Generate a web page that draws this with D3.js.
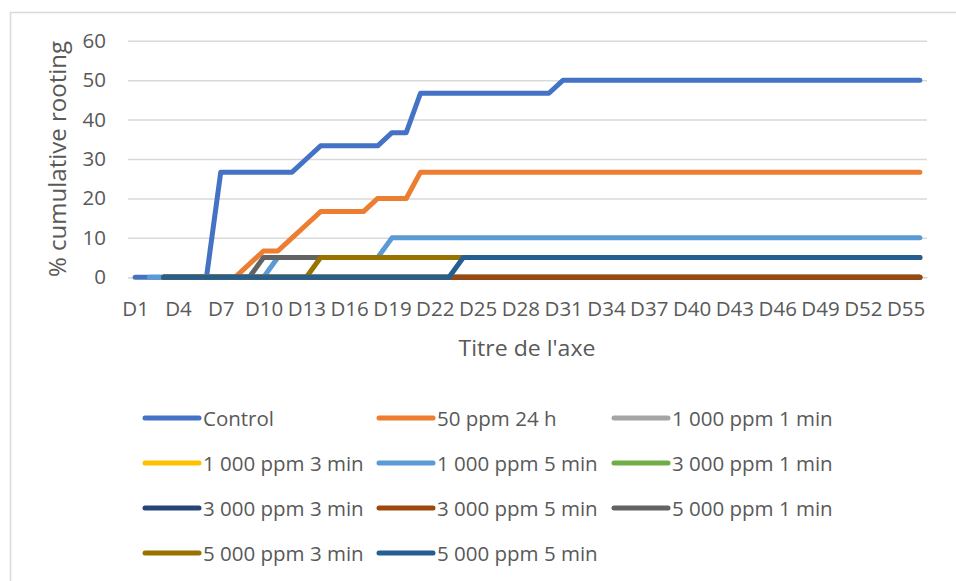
<!DOCTYPE html>
<html>
<head>
<meta charset="utf-8">
<script src="https://cdn.jsdelivr.net/npm/d3@7/dist/d3.min.js"></script>
<style>
  html, body { margin: 0; padding: 0; background: #fff; }
  svg { display: block; font-family: "Open Sans", "Noto Sans", sans-serif; }
</style>
</head>
<body>
<svg id="chart" width="956" height="581"></svg>
<script>
// Observation days D1 … D56
const days = d3.range(1, 57).map(d => "D" + d);
const yTicks = [0, 10, 20, 30, 40, 50, 60];

// helper: build a 56-day series from runs of [firstDay, lastDay, value]
function runs(list) {
  const out = new Array(days.length).fill(null);
  list.forEach(([a, b, v]) => { for (let d = a; d <= b; d++) out[d - 1] = v; });
  return out;
}

// cumulative rooting (%) per treatment
const control      = runs([[1, 6, 0], [7, 12, 26.67], [13, 13, 30], [14, 18, 33.33], [19, 20, 36.67], [21, 30, 46.67], [31, 56, 50]]);
const ppm50_24h    = runs([[3, 8, 0], [9, 9, 3.33], [10, 11, 6.67], [12, 12, 10], [13, 13, 13.33], [14, 17, 16.67], [18, 20, 20], [21, 56, 26.67]]);
const ppm1000_1    = runs([[3, 56, 0]]);
const ppm1000_3    = runs([[3, 56, 0]]);
const ppm1000_5    = runs([[2, 10, 0], [11, 18, 5], [19, 56, 10]]);
const ppm3000_1    = runs([[3, 56, 0]]);
const ppm3000_3    = runs([[3, 56, 0]]);
const ppm3000_5    = runs([[3, 56, 0]]);
const ppm5000_1    = runs([[3, 9, 0], [10, 56, 5]]);
const ppm5000_3    = runs([[3, 13, 0], [14, 56, 5]]);
const ppm5000_5    = runs([[3, 23, 0], [24, 56, 5]]);

const seriesNames = ["Control", "50 ppm 24 h", "1 000 ppm 1 min", "1 000 ppm 3 min", "1 000 ppm 5 min",
  "3 000 ppm 1 min", "3 000 ppm 3 min", "3 000 ppm 5 min", "5 000 ppm 1 min", "5 000 ppm 3 min", "5 000 ppm 5 min"];
const seriesValues = [control, ppm50_24h, ppm1000_1, ppm1000_3, ppm1000_5,
  ppm3000_1, ppm3000_3, ppm3000_5, ppm5000_1, ppm5000_3, ppm5000_5];
const seriesColors = ["#4472C4", "#ED7D31", "#A5A5A5", "#FFC000", "#5B9BD5",
  "#70AD47", "#264478", "#9E480E", "#636363", "#997300", "#255E91"];

const svg = d3.select("#chart");
const textColor = "#595959";
const gridColor = "#d9d9d9";

// outer chart frame
svg.append("rect")
  .attr("x", 10.5).attr("y", 12.5).attr("width", 1000).attr("height", 700)
  .attr("fill", "none").attr("stroke", gridColor).attr("stroke-width", 1.5);

const plot = { left: 128, right: 927, top: 40.7, bottom: 277.3 };

const x = d3.scalePoint().domain(days).range([plot.left, plot.right]).padding(0.5);
const y = d3.scaleLinear().domain([0, 60]).range([plot.bottom, plot.top]);

// gridlines + y tick labels
const yAxis = d3.axisLeft(y).tickValues(yTicks).tickSize(-(plot.right - plot.left)).tickPadding(22);
const gy = svg.append("g").attr("transform", `translate(${plot.left},0)`).call(yAxis);
gy.select(".domain").remove();
gy.selectAll(".tick line").attr("stroke", gridColor).attr("stroke-width", 1.5);
gy.selectAll(".tick text").attr("fill", textColor).style("font-size", "20.5px")
  .style("font-family", '"Open Sans", sans-serif');

// x axis labels (every third day)
const xAxis = d3.axisBottom(x).tickValues(days.filter((d, i) => i % 3 === 0)).tickSize(0).tickPadding(0);
const gx = svg.append("g").attr("transform", `translate(0,${plot.bottom})`).call(xAxis);
gx.select(".domain").attr("stroke", gridColor).attr("stroke-width", 1.5);
gx.selectAll(".tick text").attr("fill", textColor).attr("dy", null).attr("y", 38.5)
  .style("font-size", "20.5px").style("font-family", '"Open Sans", sans-serif');

// series lines
const line = d3.line()
  .defined(v => v !== null)
  .x((v, i) => x(days[i]))
  .y(v => y(v));

svg.append("g").selectAll("path")
  .data(seriesValues)
  .join("path")
  .attr("d", line)
  .attr("fill", "none")
  .attr("stroke", (d, i) => seriesColors[i])
  .attr("stroke-width", 5)
  .attr("stroke-linejoin", "round")
  .attr("stroke-linecap", "round");

// axis titles
svg.append("text")
  .attr("transform", `translate(66,159) rotate(-90)`)
  .attr("text-anchor", "middle")
  .attr("fill", textColor)
  .attr("textLength", 236).attr("lengthAdjust", "spacingAndGlyphs")
  .style("font-size", "23px")
  .text("% cumulative rooting");

svg.append("text")
  .attr("x", 527).attr("y", 355.5)
  .attr("text-anchor", "middle")
  .attr("fill", textColor)
  .attr("textLength", 137).attr("lengthAdjust", "spacingAndGlyphs")
  .style("font-size", "22px")
  .text("Titre de l'axe");

// legend, three columns
const legendCols = [145, 379, 614];
const legendRows = [418, 463, 508, 553];
const lg = svg.append("g").selectAll("g")
  .data(seriesNames)
  .join("g")
  .attr("transform", (d, i) => `translate(${legendCols[i % 3]},${legendRows[Math.floor(i / 3)]})`);
lg.append("line")
  .attr("x1", 0).attr("x2", 54).attr("y1", 0).attr("y2", 0)
  .attr("stroke", (d, i) => seriesColors[i])
  .attr("stroke-width", 5).attr("stroke-linecap", "round");
lg.append("text")
  .attr("x", 58).attr("y", 7.5)
  .attr("fill", textColor)
  .style("font-size", "20.5px")
  .text(d => d);
</script>
</body>
</html>
